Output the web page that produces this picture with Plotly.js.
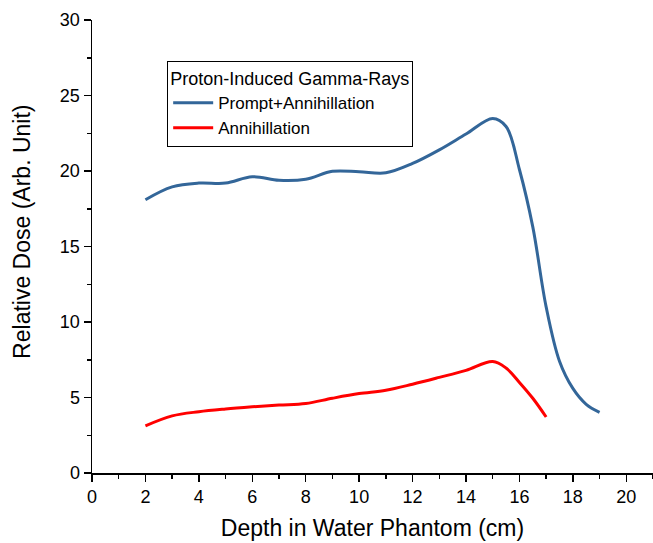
<!DOCTYPE html>
<html>
<head>
<meta charset="utf-8">
<script src="https://cdn.plot.ly/plotly-3.0.1.min.js"></script>
<style>html,body{margin:0;padding:0;background:#fff;}#chart{width:653px;height:543px;}</style>
</head>
<body>
<div id="chart"></div>
<script>
const legendTitle = "Proton-Induced Gamma-Rays";
const seriesNames = ["Prompt+Annihillation", "Annihillation"];
const depthTotal = [2, 3, 4, 5, 6, 7, 8, 9, 10, 11, 12, 13, 14, 15, 15.5, 16, 16.5, 17, 17.5, 18, 18.5, 19];
const doseTotal = [18.1, 18.95, 19.2, 19.2, 19.62, 19.38, 19.45, 19.98, 19.95, 19.88, 20.5, 21.4, 22.45, 23.48, 22.95, 20.1, 16.3, 11.0, 7.4, 5.6, 4.55, 4.02];
const depthAnn = [2, 3, 4, 5, 6, 7, 8, 9, 10, 11, 12, 13, 14, 15, 15.5, 16, 16.5, 17];
const doseAnn = [3.12, 3.78, 4.06, 4.24, 4.38, 4.5, 4.6, 4.95, 5.26, 5.48, 5.88, 6.33, 6.8, 7.38, 6.95, 6.0, 4.95, 3.71];
const xTitle = "Depth in Water Phantom (cm)";
const yTitle = "Relative Dose (Arb. Unit)";

const fontFam = "Liberation Sans, Arial, sans-serif";
const traces = [
  {x: depthTotal, y: doseTotal, name: seriesNames[0], mode: "lines",
   line: {color: "#336699", width: 3, shape: "spline", smoothing: 1}},
  {x: depthAnn, y: doseAnn, name: seriesNames[1], mode: "lines",
   line: {color: "#ff0000", width: 3, shape: "spline", smoothing: 1}}
];
const axisCommon = {
  showgrid: false, zeroline: false, showline: true, linecolor: "#000", linewidth: 1.5,
  ticks: "outside", ticklen: 7, tickwidth: 1.5, tickcolor: "#000",
  tickfont: {family: fontFam, size: 18, color: "#000"}
};
const layout = {
  width: 653, height: 543,
  margin: {l: 92, r: 0, t: 20, b: 70},
  paper_bgcolor: "#fff", plot_bgcolor: "#fff",
  font: {family: fontFam, color: "#000"},
  xaxis: Object.assign({}, axisCommon, {
    range: [0, 21], tick0: 0, dtick: 2,
    minor: {dtick: 1, ticks: "outside", ticklen: 4, tickwidth: 1.5, tickcolor: "#000"},
    title: {text: xTitle, font: {family: fontFam, size: 23, color: "#000"}, standoff: 14}
  }),
  yaxis: Object.assign({}, axisCommon, {
    range: [0, 30], tick0: 0, dtick: 5,
    minor: {dtick: 2.5, ticks: "outside", ticklen: 4, tickwidth: 1.5, tickcolor: "#000"}
  }),
  annotations: [{
    text: yTitle, xref: "paper", yref: "paper", x: -0.125, y: 0.532,
    xanchor: "center", yanchor: "middle", textangle: -90, showarrow: false,
    font: {family: fontFam, size: 23, color: "#000"}
  }],
  showlegend: true,
  legend: {
    x: 0.134, y: 0.91, xanchor: "left", yanchor: "top",
    bgcolor: "#fff", bordercolor: "#000", borderwidth: 1,
    font: {family: fontFam, size: 17, color: "#000"},
    title: {text: legendTitle, font: {family: fontFam, size: 18, color: "#000"}},
    tracegroupgap: 0, itemwidth: 40
  }
};
Plotly.newPlot("chart", traces, layout, {displayModeBar: false, staticPlot: true});
</script>
</body>
</html>
